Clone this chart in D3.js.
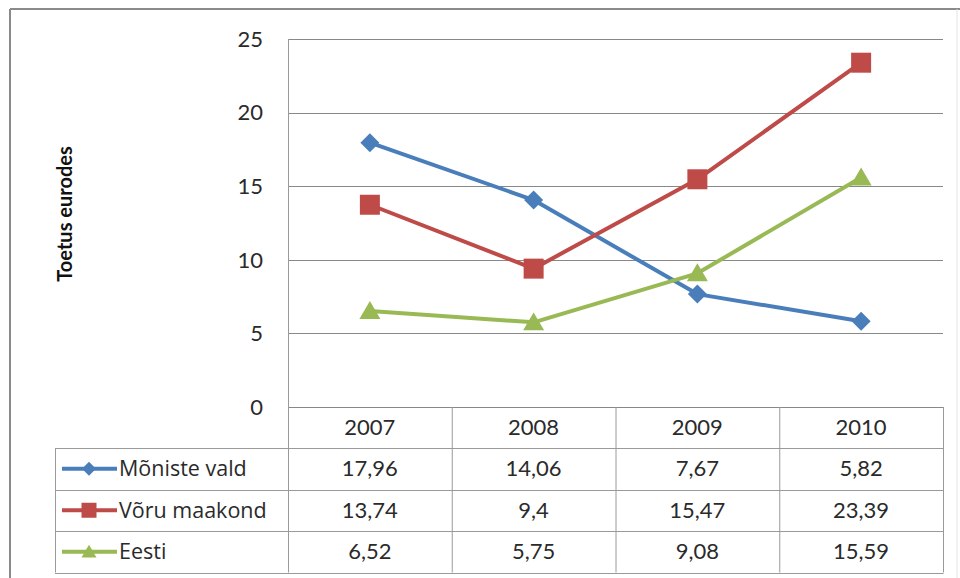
<!DOCTYPE html>
<html><head><meta charset="utf-8">
<script src="https://cdn.jsdelivr.net/npm/d3@7"></script>
<style>
html,body{margin:0;padding:0;background:#fff;}
svg text{font-family:Lato,"Open Sans",sans-serif;}
svg text.leg{font-family:"Open Sans",Lato,sans-serif;}
</style></head>
<body><svg id="c" width="960" height="578"></svg>
<script>
const years = ["2007","2008","2009","2010"];
const seriesNames = ["Mõniste vald","Võru maakond","Eesti"];
const moniste = [17.96,14.06,7.67,5.82];
const voru = [13.74,9.4,15.47,23.39];
const eesti = [6.52,5.75,9.08,15.59];
const yTicks = [0,5,10,15,20,25];
const yTitle = "Toetus eurodes";

const seriesList = [
  {name: seriesNames[0], values: moniste, color:"#4a7ebb", marker:"diamond"},
  {name: seriesNames[1], values: voru, color:"#be4b48", marker:"square"},
  {name: seriesNames[2], values: eesti, color:"#98b954", marker:"triangle"}
];

const svg = d3.select("#c");
const L = 288, R = 943, T = 39, B = 407;
const x = d3.scaleBand().domain(years).range([L,R]).padding(0);
const y = d3.scaleLinear().domain([0,25]).range([B,T]);
const FS = 22;
const txt = "#2a2a2a";

svg.append("line").attr("x1",10).attr("x2",960).attr("y1",9).attr("y2",9).attr("stroke","#8a8a8a").attr("stroke-width",2);
svg.append("line").attr("x1",10).attr("x2",10).attr("y1",9).attr("y2",578).attr("stroke","#8a8a8a").attr("stroke-width",2);
svg.append("line").attr("x1",957).attr("x2",957).attr("y1",9).attr("y2",578).attr("stroke","#e4e4e4").attr("stroke-width",1);

svg.append("g").selectAll("line").data(yTicks).join("line")
  .attr("x1",L).attr("x2",R).attr("y1",d=>Math.round(y(d))+0.5).attr("y2",d=>Math.round(y(d))+0.5)
  .attr("stroke","#888").attr("stroke-width",1);

svg.append("g").selectAll("text").data(yTicks).join("text")
  .attr("x",263).attr("y",d=>y(d)).attr("dy","0.35em").attr("text-anchor","end")
  .attr("font-size",FS).attr("fill",txt).text(d=>d);

svg.append("text").attr("transform","translate(72,214) rotate(-90)")
  .attr("text-anchor","middle").attr("font-size",20).attr("font-weight","bold").attr("fill","#111").text(yTitle);

const rowH = 41.5;
const tableTop = B, rowsTop = B + 41;
const tableBottom = rowsTop + 3*rowH;
const tg = svg.append("g");
const gridStroke = "#9a9a9a";
[L, ...years.map(d=>x(d)+x.bandwidth())].forEach((vx,i)=>{
  tg.append("line").attr("x1",vx+0.5).attr("x2",vx+0.5).attr("y1",i===0?T:tableTop).attr("y2",tableBottom)
    .attr("stroke",gridStroke);
});
tg.append("line").attr("x1",55.5).attr("x2",55.5).attr("y1",rowsTop).attr("y2",tableBottom).attr("stroke",gridStroke);
[rowsTop, rowsTop+rowH, rowsTop+2*rowH, tableBottom].forEach(hy=>{
  tg.append("line").attr("x1",55).attr("x2",R+0.5).attr("y1",Math.round(hy)+0.5).attr("y2",Math.round(hy)+0.5).attr("stroke",gridStroke);
});
tg.selectAll("text.yr").data(years).join("text").attr("class","yr")
  .attr("x",d=>x(d)+x.bandwidth()/2).attr("y",tableTop+rowH/2).attr("dy","0.35em")
  .attr("text-anchor","middle").attr("font-size",FS).attr("fill",txt).text(d=>d);

const fmt = v => String(v).replace(".",",");
function markerPath(type, s){
  const h = s/2;
  if(type==="diamond") return `M0,${-h}L${h},0L0,${h}L${-h},0Z`;
  if(type==="square") return `M${-h},${-h}H${h}V${h}H${-h}Z`;
  return `M0,${-h*0.95}L${h},${h*0.75}L${-h},${h*0.75}Z`;
}
const mSize = {diamond:19, square:20, triangle:21};
const lSize = {diamond:14, square:15, triangle:15};

seriesList.forEach((s,i)=>{
  const cy = rowsTop + rowH*i + rowH/2;
  tg.append("line").attr("x1",62).attr("x2",117).attr("y1",cy).attr("y2",cy).attr("stroke",s.color).attr("stroke-width",4);
  tg.append("path").attr("d",markerPath(s.marker,lSize[s.marker]))
    .attr("transform",`translate(89,${cy})`).attr("fill",s.color);
  tg.append("text").attr("class","leg").attr("x",119).attr("y",cy).attr("dy","0.35em").attr("font-size",21.5).attr("fill",txt).text(s.name);
  tg.selectAll(null).data(s.values).join("text")
    .attr("x",(d,j)=>x(years[j])+x.bandwidth()/2).attr("y",cy).attr("dy","0.35em")
    .attr("text-anchor","middle").attr("font-size",FS).attr("fill",txt).text(d=>fmt(d));
});

const line = d3.line().x((d,j)=>x(years[j])+x.bandwidth()/2).y(d=>y(d));
seriesList.forEach(s=>{
  svg.append("path").attr("d",line(s.values)).attr("fill","none").attr("stroke",s.color)
    .attr("stroke-width",4).attr("stroke-linejoin","round");
});
seriesList.forEach(s=>{
  svg.append("g").selectAll("path").data(s.values).join("path")
    .attr("d",markerPath(s.marker,mSize[s.marker]))
    .attr("transform",(d,j)=>`translate(${x(years[j])+x.bandwidth()/2},${y(d)})`)
    .attr("fill",s.color);
});
</script></body></html>
